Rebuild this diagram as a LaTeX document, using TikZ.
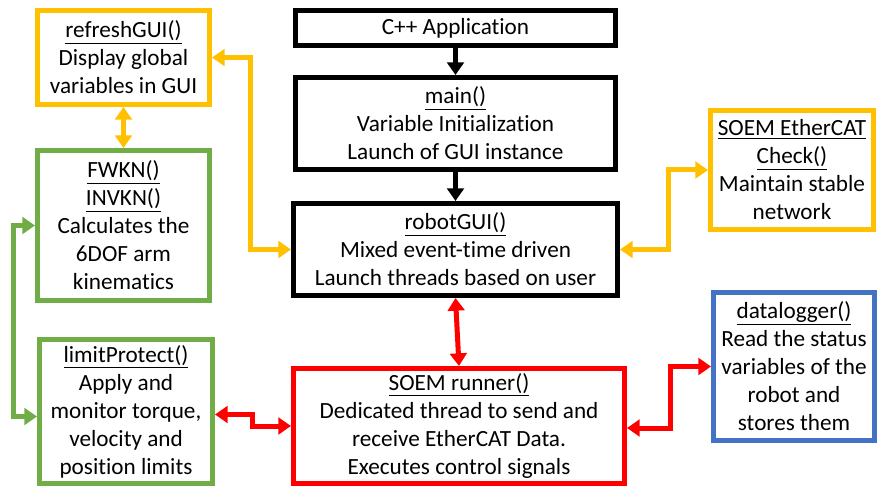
\documentclass[tikz,border=0pt]{standalone}
\usepackage{fontspec}
\setmainfont{Carlito}[Ligatures=NoCommon]
\usetikzlibrary{arrows.meta,calc}
\definecolor{cYellow}{HTML}{FFC000}
\definecolor{cGreen}{HTML}{70AD47}
\definecolor{cRed}{HTML}{FF0000}
\definecolor{cBlue}{HTML}{4472C4}
\tikzset{
  box/.style={draw, line width=3.75pt, fill=white, align=center, inner sep=0pt,
    font=\fontsize{17.4}{21}\selectfont},
  link/.style={line width=3.75pt, arrows={-{Triangle[length=9.5pt,width=12.5pt]}}},
  dlink/.style={line width=3.75pt, arrows={{Triangle[length=9.5pt,width=12.5pt]}-{Triangle[length=9.5pt,width=12.5pt]}}},
}
\begin{document}
\begin{tikzpicture}[x=0.75pt,y=-0.75pt]
\useasboundingbox (0,0) rectangle (878,488);

% central column
\node[box, minimum width=320*0.75pt, minimum height=35*0.75pt] (app) at (455.5,28) {C++ Application};
\node[box, minimum width=320*0.75pt, minimum height=92*0.75pt] (main) at (455.5,123.5)
  {\underline{main()}\\Variable Initialization\\Launch of GUI instance};
\node[box, minimum width=324*0.75pt, minimum height=92*0.75pt] (gui) at (455.5,249.5)
  {\underline{robotGUI()}\\Mixed event-time driven\\Launch threads based on user};
\node[box, draw=cRed, minimum width=331*0.75pt, minimum height=115*0.75pt] (runner) at (459,426)
  {\underline{SOEM runner()}\\Dedicated thread to send and\\receive EtherCAT Data.\\Executes control signals};

% left column
\node[box, draw=cYellow, minimum width=172*0.75pt, minimum height=94*0.75pt] (refresh) at (123.5,57.5)
  {\underline{refreshGUI()}\\Display global\\variables in GUI};
\node[box, draw=cGreen, minimum width=172*0.75pt, minimum height=150*0.75pt] (kin) at (123.5,225.5)
  {\underline{FWKN()}\\\underline{INVKN()}\\Calculates the\\6DOF arm\\kinematics};
\node[box, draw=cGreen, minimum width=173*0.75pt, minimum height=144*0.75pt] (limit) at (126,411.5)
  {\underline{limitProtect()}\\Apply and\\monitor torque,\\velocity and\\position limits};

% right column
\node[box, draw=cYellow, minimum width=163*0.75pt, minimum height=119*0.75pt] (check) at (792,170)
  {\underline{SOEM EtherCAT}\\\underline{Check()}\\Maintain stable\\network};
\node[box, draw=cBlue, minimum width=161*0.75pt, minimum height=148*0.75pt] (logger) at (794,366.5)
  {\underline{datalogger()}\\Read the status\\variables of the\\robot and\\stores them};

% control flow
\draw[link] (app.south) -- (main.north);
\draw[link] (main.south) -- (gui.north);

% data exchange
\draw[dlink, cYellow] (refresh.east) -- ++(38,0) |- (gui.west);
\draw[dlink, cYellow] (refresh.south) -- (kin.north);
\draw[dlink, cYellow] (gui.east) -- ++(48,0) |- (check.west);
\draw[dlink, cGreen] (kin.west) -- ++(-22,0) |- ($(limit.west)+(0,5)$);
\draw[dlink, cRed] ($(limit.east)+(0,3)$) -- ++(37,0) |- (runner.west);
\draw[dlink, cRed] (gui.south) -- (runner.north);
\draw[dlink, cRed] ($(runner.east)+(0,2)$) -- ++(43,0) |- (logger.west);
\end{tikzpicture}
\end{document}
